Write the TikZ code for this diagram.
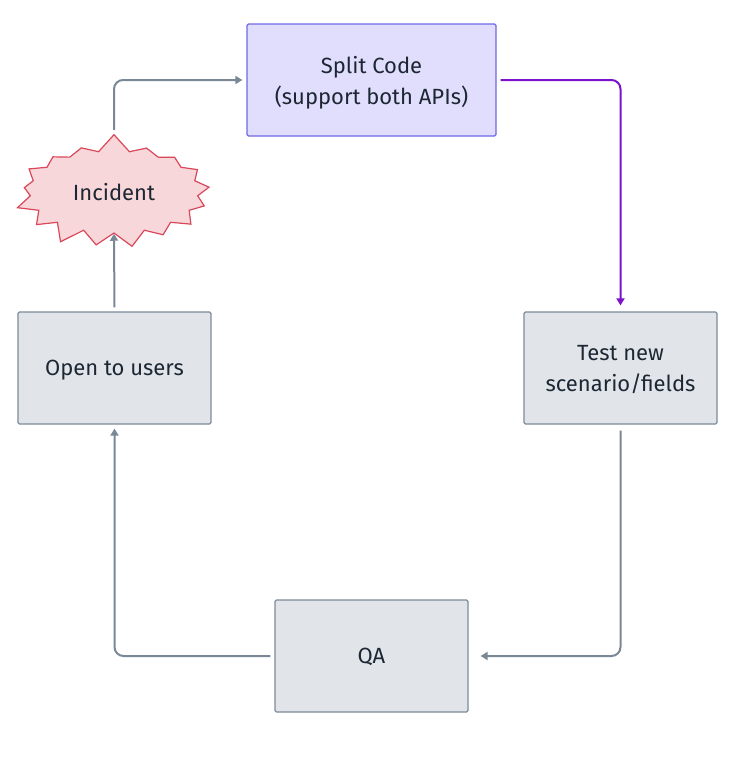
\documentclass[tikz,border=0pt]{standalone}
\usepackage{fontspec}
\setmainfont{Fira Sans}
\usetikzlibrary{shapes.symbols,arrows.meta}
\definecolor{boxfill}{HTML}{E1E5E9}
\definecolor{boxline}{HTML}{7D8B99}
\definecolor{splitfill}{HTML}{E0DEFC}
\definecolor{splitline}{HTML}{6E68E6}
\definecolor{incfill}{HTML}{F8D7DA}
\definecolor{incline}{HTML}{D9475A}
\definecolor{flow}{HTML}{7A8896}
\definecolor{hot}{HTML}{7B12CC}
\definecolor{ink}{HTML}{1C2733}
\begin{document}
\begin{tikzpicture}[x=1pt,y=-1pt,
	box/.style={draw=boxline,fill=boxfill,rounded corners=1.5pt,line width=1.2pt,
		minimum width=193pt,minimum height=112pt,align=center,text=ink,text depth=0pt,
		font=\fontsize{22}{31}\selectfont},
	link/.style={draw=flow,line width=2pt,rounded corners=9pt,
		-{Triangle[length=7pt,width=8pt]}}]
		\useasboundingbox (0,0) rectangle (740,766);
		\node[box,draw=splitline,fill=splitfill,minimum width=249pt] (split) at (371.5,80) {Split Code\\(support both APIs)};
		\node[box] (test) at (620.5,368) {Test new\\scenario/fields};
		\node[box] (qa) at (371.5,656) {QA};
		\node[box] (open) at (114.5,368) {Open to users};
		\node[starburst,starburst points=17,starburst point height=18pt,random starburst=7,
			draw=incline,fill=incfill,line width=1.2pt,minimum width=204pt,minimum height=118pt,
			inner sep=0pt,text=ink,font=\fontsize{22}{31}\selectfont] (inc) at (114,192) {Incident};
		\draw[link,shorten <=4pt,shorten >=4pt] (inc.north) |- (split.west);
		\draw[link,draw=hot,shorten <=4pt,shorten >=6pt] (split.east) -| (test.north);
		\draw[link,shorten <=6pt,shorten >=12pt] (test.south) |- (qa.east);
		\draw[link,shorten <=4pt,shorten >=4pt] (qa.west) -| (open.south);
		\draw[link,shorten <=4pt] (open.north) -- (inc.south);
	\end{tikzpicture}
\end{document}
